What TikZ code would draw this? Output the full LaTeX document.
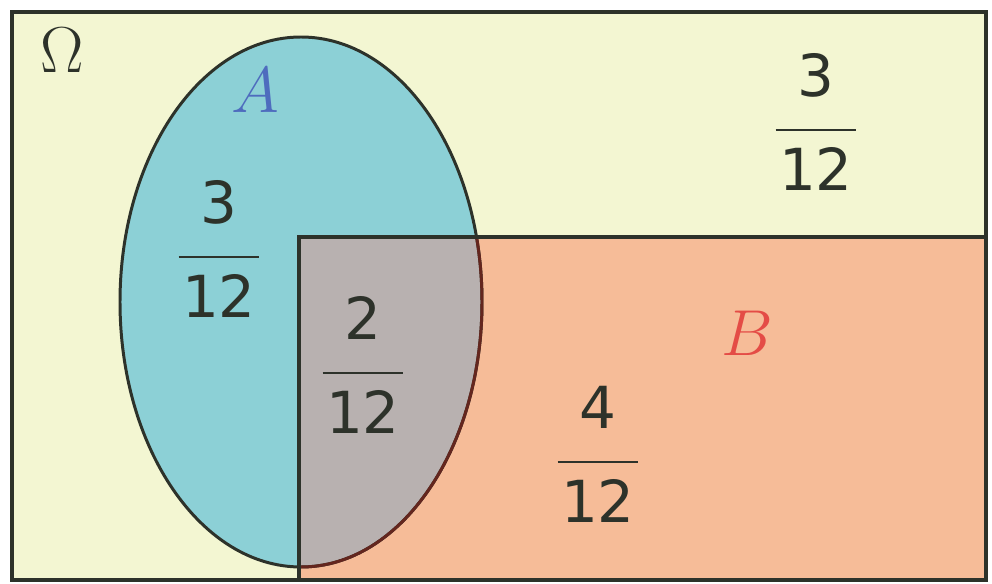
\RequirePackage{fix-cm}
\documentclass[tikz,border=0pt]{standalone}
\usepackage{fontspec}
\newfontfamily\digfont{DejaVu Sans}
\usetikzlibrary{positioning}
\definecolor{omegabg}{RGB}{243,246,210}
\definecolor{setA}{RGB}{140,208,214}
\definecolor{setB}{RGB}{246,188,152}
\definecolor{setAB}{RGB}{184,177,176}
\definecolor{inkdark}{RGB}{45,50,42}
\definecolor{labA}{RGB}{78,108,190}
\definecolor{labB}{RGB}{228,76,70}
\definecolor{edgeAB}{RGB}{100,38,30}
\tikzset{
  prob/.style={text=inkdark,inner sep=0pt,font=\fontsize{33}{40}\selectfont},
  setlab/.style={inner sep=0pt,font=\fontsize{37}{44}\selectfont},
  border/.style={draw=inkdark,line width=2.2pt}
}
\newcommand{\pfrac}[2]{$\displaystyle{\hbox{\raise5pt\hbox{\digfont #1}}\above1.3pt
  \hbox{\lower3.4pt\hbox{\kern2pt\digfont #2\kern2pt}}}$}

\begin{document}
\begin{tikzpicture}[x=0.02cm,y=-0.02cm]
  \useasboundingbox (0,0) rectangle (992,584);
  %% sample space
  \fill[omegabg] (12,12) rectangle (986,580);

  %% A, B and their overlap
  \fill[setA] (301,302) ellipse [x radius=181, y radius=265];
  \fill[setB] (299,237) rectangle (986,580);
  \begin{scope}
    \clip (299,237) rectangle (986,580);
    \fill[setAB] (301,302) ellipse [x radius=181, y radius=265];
  \end{scope}
  \draw[inkdark,line width=1.7pt] (301,302) ellipse [x radius=181, y radius=265];
  \begin{scope}
    \clip (299,237) rectangle (986,580);
    \draw[edgeAB,line width=1.7pt] (301,302) ellipse [x radius=181, y radius=265];
  \end{scope}
  \draw[border] (299,237) rectangle (986,580);
  \draw[border] (12,12) rectangle (986,580);

  %% labels
  \node[setlab,text=inkdark] (omega) at (62,50) {$\Omega$};
  \node[setlab,text=labA] (labA) at (255,90) {$A$};
  \node[setlab,text=labB] (labB) at (747,333) {$B$};

  %% probabilities
  \node[prob] (pOut) at (816,122) {\pfrac{3}{12}};
  \node[prob] (pA) at (219,249) {\pfrac{3}{12}};
  \node[prob] (pAB) at (363,365) {\pfrac{2}{12}};
  \node[prob] (pB) at (598,454) {\pfrac{4}{12}};
\end{tikzpicture}
\end{document}
